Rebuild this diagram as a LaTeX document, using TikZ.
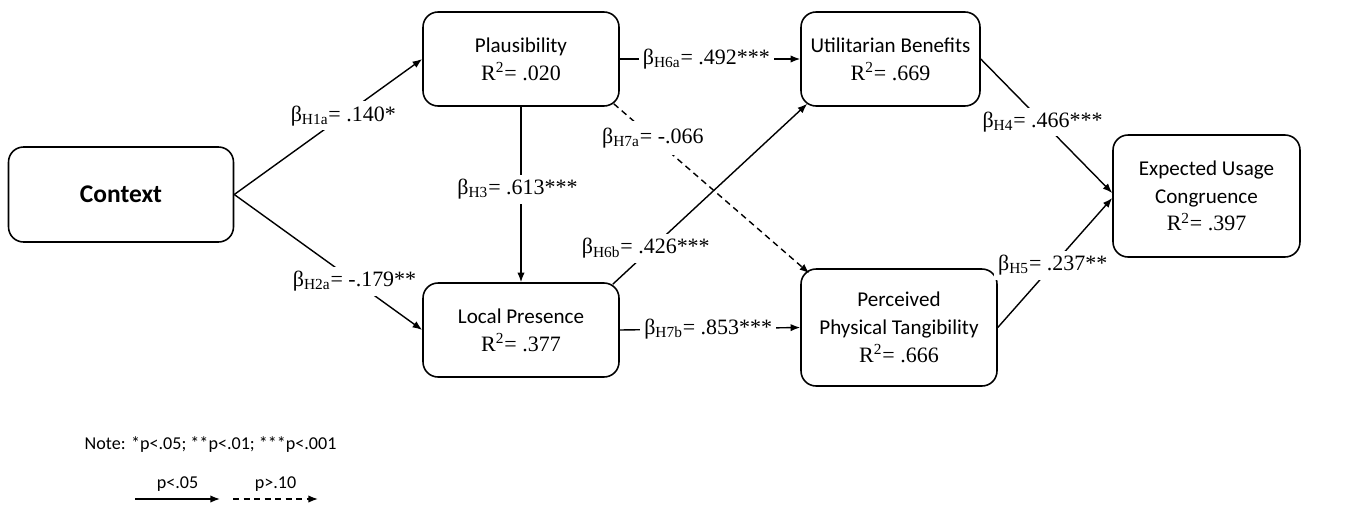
\documentclass[tikz,border=0pt]{standalone}
\usepackage{fontspec}
\setmainfont{Liberation Serif}
\newfontfamily\calib{Carlito}
\usetikzlibrary{arrows.meta}
\newcommand{\bt}[1]{β\textsubscript{#1}}
\newcommand{\rsq}{R\textsuperscript{2}}
\newcommand{\cb}{\calib\fontsize{12}{15.8}\selectfont}
\begin{document}
\begin{tikzpicture}[x=0.02cm,y=-0.02cm, line width=0.8pt,
  box/.style={draw, rounded corners=0.3cm, line width=0.9pt, align=center, inner sep=0pt,
    font=\fontsize{12.5}{15.8}\selectfont},
  lbl/.style={fill=white, inner sep=2.5pt, font=\fontsize{12.5}{14}\selectfont},
  arr/.style={-{Latex[length=5.5pt,width=4.2pt]}},
  dsh/.style={dash pattern=on 3.5pt off 2.5pt},
  leg/.style={font=\calib\fontsize{10.3}{12}\selectfont}]
\useasboundingbox (0,0) rectangle (1352,508);

\node[box, minimum width=4.5cm, minimum height=1.9cm] (ctx) at (121,194.5)
  {\calib\fontsize{14.5}{16}\selectfont\bfseries Context};
\node[box, minimum width=3.92cm, minimum height=1.88cm] (pl) at (521,59)
  {{\cb Plausibility}\\ \rsq= .020};
\node[box, minimum width=3.58cm, minimum height=1.88cm] (ub) at (890.5,59)
  {{\cb Utilitarian Benefits}\\ \rsq= .669};
\node[box, minimum width=3.92cm, minimum height=1.88cm] (lp) at (521,330)
  {{\cb Local Presence}\\ \rsq= .377};
\node[box, minimum width=3.92cm, minimum height=2.34cm] (pp) at (899,327.5)
  {{\cb Perceived}\\ {\cb Physical Tangibility}\\ \rsq= .666};
\node[box, minimum width=3.74cm, minimum height=2.44cm] (eu) at (1206.5,196)
  {{\cb Expected Usage}\\ {\cb Congruence}\\ \rsq= .397};

\draw[arr] (ctx.east) -- node[lbl,pos=0.58]{\bt{H1a}= .140*} (pl.west);
\draw[arr] (ctx.east) -- node[lbl,pos=0.64]{\bt{H2a}= -.179**} (lp.west);
\draw[arr] (pl.south) -- node[lbl,pos=0.47,xshift=-2pt]{\bt{H3}= .613***} (lp.north);
\draw[arr] (pl.east) -- node[lbl,pos=0.48]{\bt{H6a}= .492***} (ub.west);
\draw[arr,dsh] ([shift={(-6,-3)}]pl.south east) -- node[lbl,pos=0.2,inner sep=4pt]{\bt{H7a}= -.066} ([shift={(9,5)}]pp.north west);
\draw[arr] ([shift={(-7,2)}]lp.north east) -- node[lbl,pos=0.17,yshift=3pt]{\bt{H6b}= .426***} ([shift={(7,-3)}]ub.south west);
\draw[arr] (lp.east) -- node[lbl,pos=0.49]{\bt{H7b}= .853***} (pp.west);
\draw[arr] (ub.east) -- node[lbl,pos=0.47]{\bt{H4}= .466***} ([shift={(0,-3)}]eu.west);
\draw[arr] (pp.east) -- node[lbl,pos=0.48]{\bt{H5}= .237**} ([shift={(0,2)}]eu.west);

\node[leg, anchor=west, inner sep=0pt] (note) at (84,445) {Note: *p<.05; **p<.01; ***p<.001};
\coordinate (s1) at (135,499);
\coordinate (e1) at (220,499);
\coordinate (s2) at (233,499);
\coordinate (e2) at (318,499);
\draw[arr] (s1) -- node[leg, above, inner sep=4pt] (l1) {p<.05} (e1);
\draw[arr,dsh] (s2) -- node[leg, above, inner sep=4pt] (l2) {p>.10} (e2);
\end{tikzpicture}
\end{document}
